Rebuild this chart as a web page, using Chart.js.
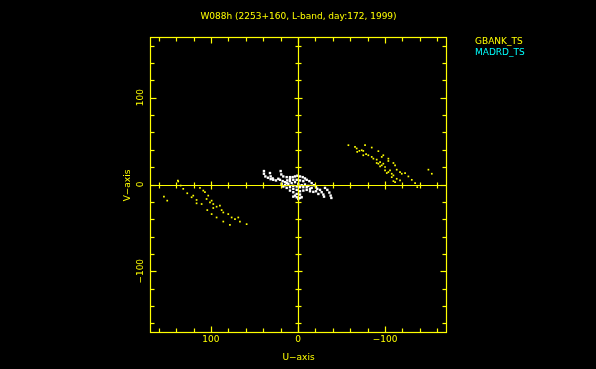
<!DOCTYPE html>
<html>
<head>
<meta charset="utf-8">
<script src="https://cdn.jsdelivr.net/npm/chart.js@4/dist/chart.umd.min.js"></script>
<style>
  html, body { margin: 0; padding: 0; background: #000; }
  #wrap { width: 596px; height: 369px; }
</style>
</head>
<body>
<div id="wrap"><canvas id="uv"></canvas></div>
<script>
// values (U, V in the plot's units)
var title = 'W088h (2253+160, L-band, day:172, 1999)';
var seriesNames = ['GBANK_TS', 'MADRD_TS'];
var axisMin = -170, axisMax = 170;
var minorTicks = [-160,-140,-120,-100,-80,-60,-40,-20,0,20,40,60,80,100,120,140,160];
var tickValues = [100, 0, -100];
var tickLabels = ['100', '0', '\u2212100'];

var gbankU = [-57.9,-65.5,-67.4,-70.5,-73.2,-77,-75,-78.2,-84.7,-84.7,-90.4,-92.3,-96.2,-90.4,-96.2,-100,-103.8,-109.6,-111.5,-103.8,-107.7,-113.4,-117.2,-123,-126.8,-130.7,-113.4,-109.6,-117.2,-134.5,-137,-149.8,-153.7,-68,
  -75,-80.8,-86.6,-92.3,-98,-100,-105.7,-109.6,-119.2,-107.7,-111.5,-94.3,-102,-98,-94.3,-103.8,
  154,150.2,137.6,131.8,127.2,120.3,122.2,116.5,112.6,108.8,106.9,103.1,105,99.2,116.5,110.7,97.3,93.5,89.7,87.7,85.8,80.1,76.2,72.4,68.6,66.7,59,78.2,85.8,93.5,99.2,104.2,97.3,101.1,138,134.8];
var gbankV = [45.3,43.4,41.5,38.8,39.5,45.3,33.7,34.9,42.6,31.8,28.7,38.4,31.8,24.8,22.1,20.2,29.8,24.8,22.1,14.3,12.4,17.1,14.3,13.2,9.3,5.4,6.6,3.9,4.7,1.6,-3.1,17.1,12.4,37.6,
  38.7,33.7,29.8,24,24,16.3,16.3,10.5,12.4,8.5,2.7,20.9,13.2,33.7,25.9,27.1,
  -14,-18.6,3.5,-5,-10.1,-12.8,-14.7,-17.8,-3.9,-7,-8.9,-12.8,-16.7,-18.6,-21.7,-22.5,-22.5,-25.6,-24.4,-29.5,-32.2,-34.1,-38,-39.9,-38,-42.7,-45.7,-46.5,-42.7,-38,-34.1,-29.5,-27.1,-20.6,4.6,-1.2];

var madrdU = [];
var madrdV = [];

var shortU = [39.1,39.1,37.5,34.5,31.4,28.4,32.2,31.4,29.1,25.3,19.9,19.2,16.9,13,9.2,22.6,20.7,17.6,14.9,12.3,9.2,6.1,3.4,0.8,-2.3,-5.4,-8,-10,-13,-15.7,-18.4,-20.7,-22.2,
  18.8,14.9,11.1,7.3,3.4,-0.4,-4.2,-8,-11.9,-15.7,9.2,5.4,1.5,-2.3,-6.1,-10,-13.8,-17.6,5.4,1.5,-2.3,-4.2,-0.4,3.4,9.2,13,16.9,
  -25.3,-27.2,-29.1,-29.9,-31,-33.7,-36,-37.5,-38.3,-20.7,-23.4,
  5.4,1.5,-2.3,-6.1,13,5.4,1.5,-2.3,-6.1,-10,-13.8,9.2,1.5,5.4,-2.3];
var shortV = [15.5,12.4,9.3,7.8,6.2,5.4,13.2,9.3,7,4.7,15.5,11.6,9.3,8.5,8.5,6.6,5.4,3.9,2.7,4.7,6.6,8.5,9.3,10.1,9.3,8.5,7,5.4,3.9,1.6,-0.8,-3.1,-5,
  0.8,-0.8,0.8,1.6,2.7,0.8,-0.8,0,-1.6,-3.9,-3.1,-5,-6.2,-7.8,-7,-6.2,-7.8,-8.5,-8.9,-10.9,-11.6,-14.7,-16.7,-12.8,-7,-3.9,-2.3,
  -6.2,-8.9,-11.6,-14,-3.9,-6.2,-9.3,-12.8,-15.5,-7.8,-10.9,
  5.4,5.4,4.7,3.9,1.6,-1.6,-2.3,-3.1,-3.1,-3.1,-5,3.9,-14.7,-14,-15.5];

var yellow = '#ffff00';
var cyan = '#00ffff';
var font = '9px "DejaVu Sans"';

function pts(us, vs) {
  return us.map(function(u, i){ return {x: u, y: vs[i]}; });
}

function setTicks(s) {
  s.ticks = minorTicks.map(function(v){ return {value: v}; });
}

var frame = {
  id: 'frame',
  afterDatasetsDraw: function(chart) {
    var ctx = chart.ctx, a = chart.chartArea, x = chart.scales.x, y = chart.scales.y;
    function line(x1, y1, x2, y2) { ctx.beginPath(); ctx.moveTo(x1, y1); ctx.lineTo(x2, y2); ctx.stroke(); }
    ctx.save();
    ctx.strokeStyle = yellow;
    ctx.lineWidth = 1.2;
    var L = Math.round(a.left) + 0.5, R = Math.round(a.right) + 0.5, T = Math.round(a.top) + 0.5, B = Math.round(a.bottom) + 0.5;
    ctx.strokeRect(L, T, R - L, B - T);
    var x0 = Math.round(x.getPixelForValue(0)) + 0.5, y0 = Math.round(y.getPixelForValue(0)) + 0.5;
    line(L, y0, R, y0);
    line(x0, T, x0, B);
    x.ticks.forEach(function(t){
      var p = Math.round(x.getPixelForValue(t.value)) + 0.5;
      var major = t.value % 100 === 0, len = major ? 6 : 4, c = major ? 4 : 3;
      line(p, B, p, B - len);
      line(p, T, p, T + len);
      if (t.value !== 0) line(p, y0 - c, p, y0 + c);
    });
    y.ticks.forEach(function(t){
      var p = Math.round(y.getPixelForValue(t.value)) + 0.5;
      var major = t.value % 100 === 0, len = major ? 6 : 4, c = major ? 4 : 3;
      line(L, p, L + len, p);
      line(R, p, R - len, p);
      if (t.value !== 0) line(x0 - c, p, x0 + c, p);
    });

    ctx.fillStyle = yellow;
    ctx.font = font;
    ctx.textAlign = 'center';
    ctx.textBaseline = 'middle';
    tickValues.forEach(function(v, i){
      ctx.fillText(tickLabels[i], x.getPixelForValue(v), 340);
    });
    ctx.fillText('U\u2212axis', x0, 358);
    ctx.fillText(title, x0, 17);
    tickValues.forEach(function(v, i){
      ctx.save();
      ctx.translate(141, y.getPixelForValue(v));
      ctx.rotate(-Math.PI / 2);
      ctx.fillText(tickLabels[i], 0, 0);
      ctx.restore();
    });
    ctx.save();
    ctx.translate(128, y0);
    ctx.rotate(-Math.PI / 2);
    ctx.fillText('V\u2212axis', 0, 0);
    ctx.restore();

    ctx.textAlign = 'left';
    ctx.fillStyle = yellow;
    ctx.fillText(seriesNames[0], 475, 42);
    ctx.fillStyle = cyan;
    ctx.fillText(seriesNames[1], 475, 53);
    ctx.restore();
  }
};

new Chart(document.getElementById('uv'), {
  type: 'scatter',
  data: {
    datasets: [{
      label: seriesNames[0],
      data: pts(gbankU, gbankV),
      backgroundColor: yellow,
      borderWidth: 0,
      pointStyle: 'rect',
      pointRadius: 1.2
    }, {
      label: seriesNames[1],
      data: pts(madrdU, madrdV),
      backgroundColor: cyan,
      borderWidth: 0,
      pointStyle: 'rect',
      pointRadius: 1.2
    }, {
      label: '',
      data: pts(shortU, shortV),
      backgroundColor: '#ffffff',
      borderWidth: 0,
      pointStyle: 'rect',
      pointRadius: 1.7
    }]
  },
  options: {
    responsive: true,
    maintainAspectRatio: false,
    animation: false,
    events: [],
    layout: { padding: { left: 150, right: 150, top: 37, bottom: 37 } },
    plugins: { legend: { display: false }, tooltip: { enabled: false } },
    scales: {
      x: {
        type: 'linear', reverse: true, min: axisMin, max: axisMax,
        ticks: { display: false },
        grid: { display: false, drawTicks: false },
        border: { display: false },
        afterBuildTicks: setTicks,
        afterFit: function(s){ s.height = 0; }
      },
      y: {
        type: 'linear', min: axisMin, max: axisMax,
        ticks: { display: false },
        grid: { display: false, drawTicks: false },
        border: { display: false },
        afterBuildTicks: setTicks,
        afterFit: function(s){ s.width = 0; }
      }
    }
  },
  plugins: [frame]
});
</script>
</body>
</html>
